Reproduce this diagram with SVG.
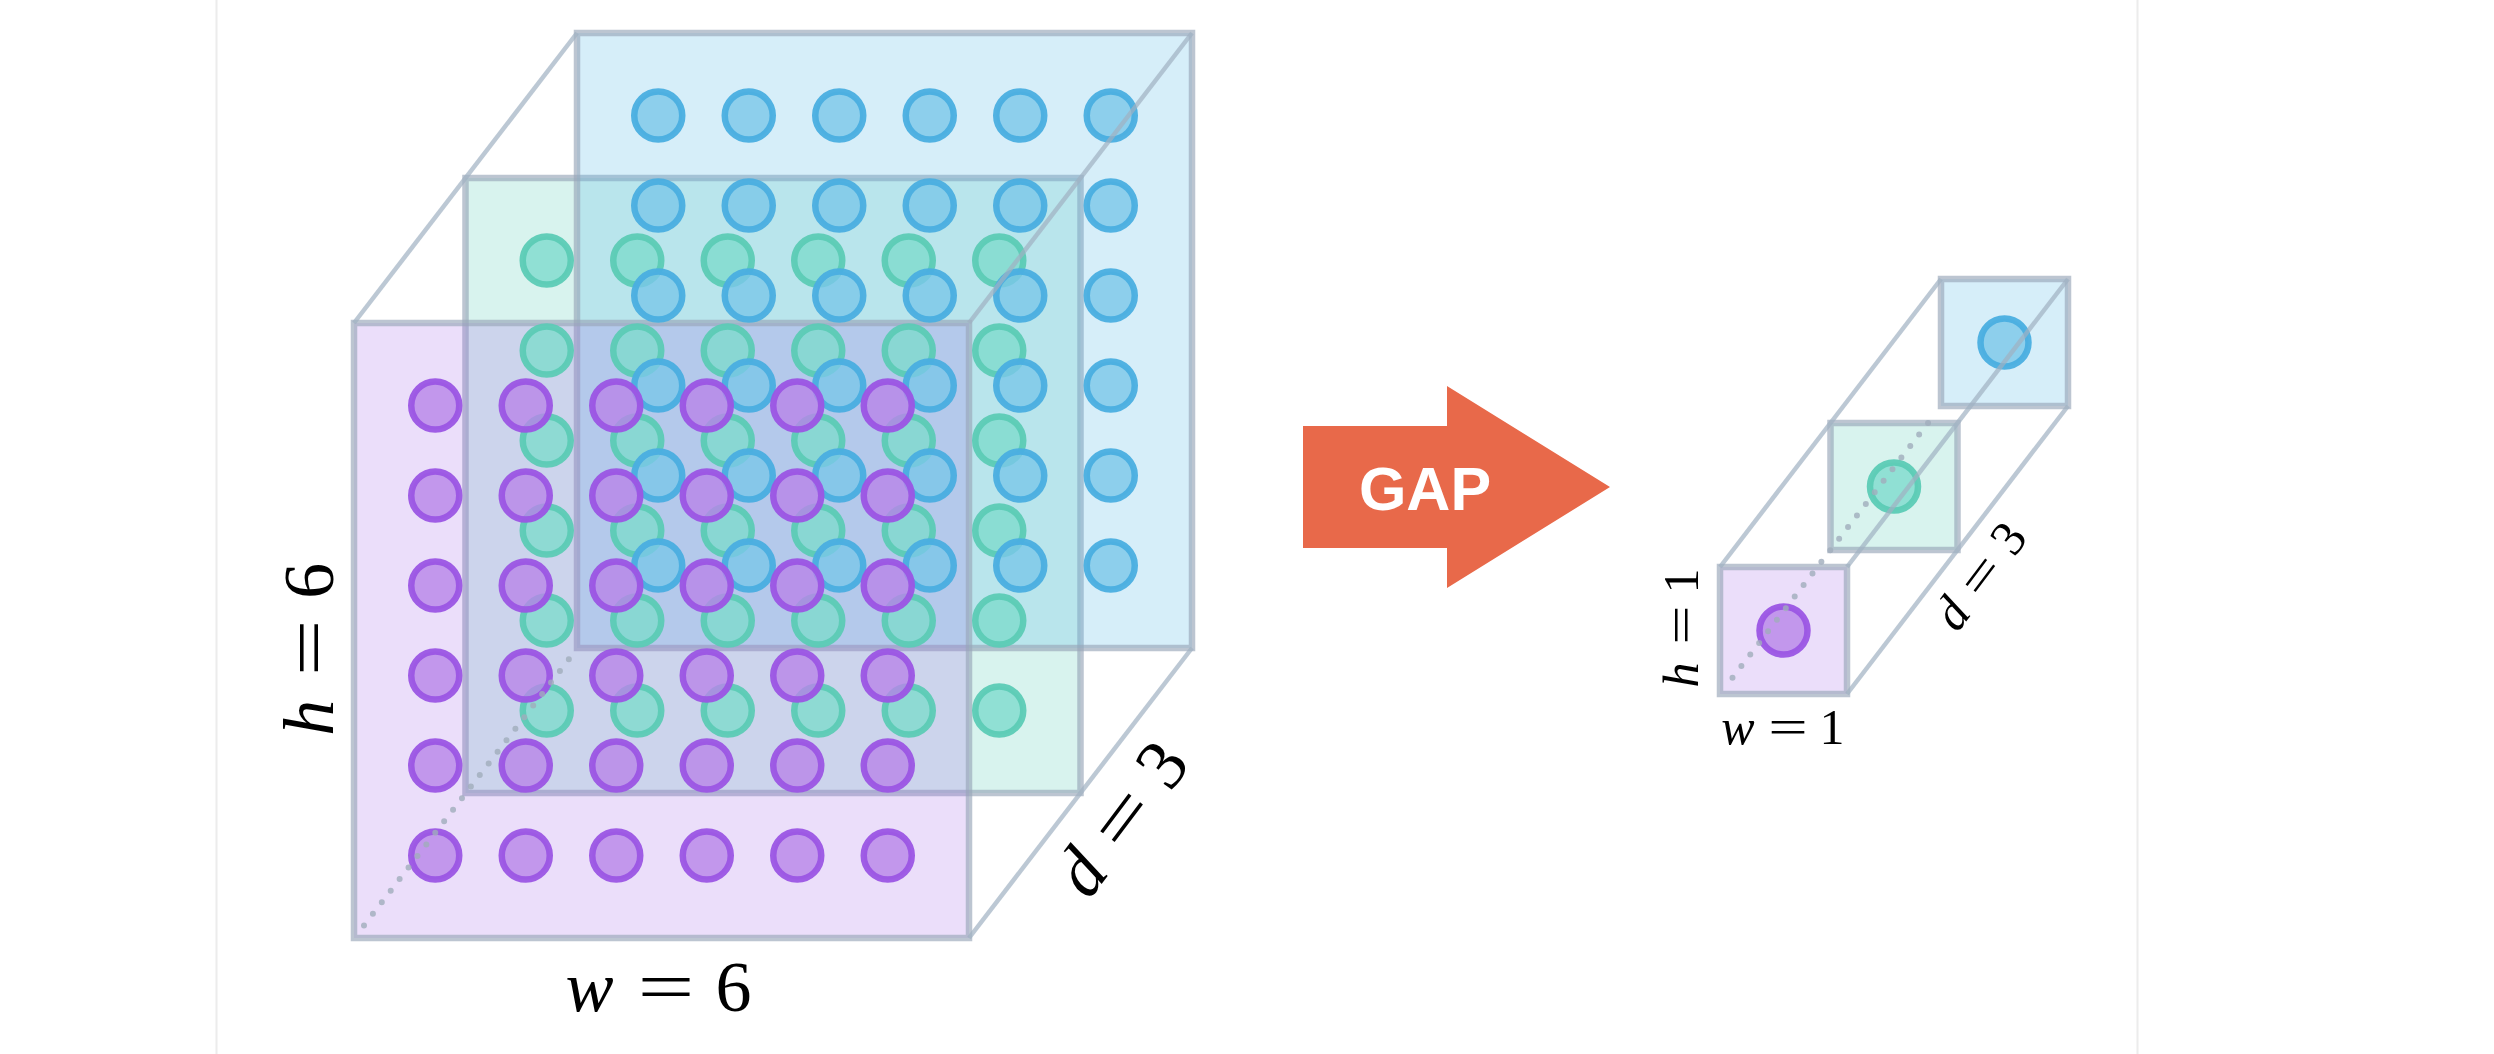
<svg xmlns="http://www.w3.org/2000/svg" xmlns:xlink="http://www.w3.org/1999/xlink" width="2494" height="1054" viewBox="0 0 2494 1054">
  <style>
    .sq { stroke: #98a6b8; stroke-opacity: 0.65; stroke-width: 6.5; }
    .sq-purple { fill: #a26be6; fill-opacity: 0.22; }
    .sq-green { fill: #5ecdb6; fill-opacity: 0.24; }
    .sq-blue { fill: #5bbce6; fill-opacity: 0.25; }
    .c { stroke-width: 6.5; fill-opacity: 0.8; stroke-opacity: 0.95; }
    .c-purple { fill: #b884e8; stroke: #9b55e4; }
    .c-green { fill: #7edbcd; stroke: #5ccbb5; }
    .c-blue { fill: #7bc7e9; stroke: #4aaee0; }
    .edge { stroke: #9fb0c2; stroke-opacity: 0.7; stroke-width: 4.5; fill: none; }
    .dots { stroke: #a0acbc; stroke-opacity: 0.8; stroke-width: 6; stroke-linecap: round; stroke-dasharray: 0 14.6; fill: none; }
    .math { font-family: "Liberation Serif", "Times New Roman", serif; fill: #000; text-anchor: middle; }
    .big { font-size: 72px; }
    .small { font-size: 50px; }
    .it { font-style: italic; }
    .frame { stroke: #ececec; stroke-width: 2; }
  </style>
  <defs>
    <g id="grid">
      <circle cx="81.25" cy="82.5" r="24"/><circle cx="171.75" cy="82.5" r="24"/><circle cx="262.25" cy="82.5" r="24"/><circle cx="352.75" cy="82.5" r="24"/><circle cx="443.25" cy="82.5" r="24"/><circle cx="533.75" cy="82.5" r="24"/>
      <circle cx="81.25" cy="172.5" r="24"/><circle cx="171.75" cy="172.5" r="24"/><circle cx="262.25" cy="172.5" r="24"/><circle cx="352.75" cy="172.5" r="24"/><circle cx="443.25" cy="172.5" r="24"/><circle cx="533.75" cy="172.5" r="24"/>
      <circle cx="81.25" cy="262.5" r="24"/><circle cx="171.75" cy="262.5" r="24"/><circle cx="262.25" cy="262.5" r="24"/><circle cx="352.75" cy="262.5" r="24"/><circle cx="443.25" cy="262.5" r="24"/><circle cx="533.75" cy="262.5" r="24"/>
      <circle cx="81.25" cy="352.5" r="24"/><circle cx="171.75" cy="352.5" r="24"/><circle cx="262.25" cy="352.5" r="24"/><circle cx="352.75" cy="352.5" r="24"/><circle cx="443.25" cy="352.5" r="24"/><circle cx="533.75" cy="352.5" r="24"/>
      <circle cx="81.25" cy="442.5" r="24"/><circle cx="171.75" cy="442.5" r="24"/><circle cx="262.25" cy="442.5" r="24"/><circle cx="352.75" cy="442.5" r="24"/><circle cx="443.25" cy="442.5" r="24"/><circle cx="533.75" cy="442.5" r="24"/>
      <circle cx="81.25" cy="532.5" r="24"/><circle cx="171.75" cy="532.5" r="24"/><circle cx="262.25" cy="532.5" r="24"/><circle cx="352.75" cy="532.5" r="24"/><circle cx="443.25" cy="532.5" r="24"/><circle cx="533.75" cy="532.5" r="24"/>
    </g>
  </defs>

  <rect width="2494" height="1054" fill="#ffffff"/>
  <line class="frame" x1="216.5" y1="0" x2="216.5" y2="1054"/>
  <line class="frame" x1="2137.5" y1="0" x2="2137.5" y2="1054"/>

  <g id="input-tensor">
    <g id="input-planes">
      <rect id="input-plane-green" class="sq sq-green" x="465.5" y="178" width="615" height="615"/>
      <rect id="input-plane-blue" class="sq sq-blue" x="577" y="33" width="615" height="615"/>
      <rect id="input-plane-purple" class="sq sq-purple" x="354" y="323" width="615" height="615"/>
    </g>
    <g id="input-units">
      <use id="input-units-green" xlink:href="#grid" href="#grid" x="465.5" y="178" class="c c-green"/>
      <use id="input-units-blue" xlink:href="#grid" href="#grid" x="577" y="33" class="c c-blue"/>
      <use id="input-units-purple" xlink:href="#grid" href="#grid" x="354" y="323" class="c c-purple"/>
    </g>
    <g id="input-box-edges">
      <line class="edge" x1="354" y1="323" x2="577" y2="33"/>
      <line class="edge" x1="969" y1="323" x2="1192" y2="33"/>
      <line class="edge" x1="969" y1="938" x2="1192" y2="648"/>
      <line class="dots" x1="364" y1="925.4" x2="571" y2="656.5"/>
    </g>
    <g id="input-labels">
      <text class="math big" transform="translate(333,651.7) rotate(-90)"><tspan class="it" x="-66" y="0">h</tspan><tspan x="4" y="0" textLength="57" lengthAdjust="spacingAndGlyphs">=</tspan><tspan x="71" y="0">6</tspan></text>
      <text class="math big"><tspan class="it" x="589.5" y="1011">w</tspan><tspan x="666" y="1011" textLength="57" lengthAdjust="spacingAndGlyphs">=</tspan><tspan x="733.5" y="1011">6</tspan></text>
      <text class="math big" transform="translate(1140,833) rotate(-53)"><tspan class="it" x="-67" y="0">d</tspan><tspan x="1" y="0" textLength="57" lengthAdjust="spacingAndGlyphs">=</tspan><tspan x="68" y="0">3</tspan></text>
    </g>
  </g>

  <g id="gap-arrow">
    <path d="M1303,426 H1447 V386 L1610,487 L1447,588 V548 H1303 Z" fill="#e8694a"/>
    <text x="1425" y="510" font-family="'Liberation Sans', Arial, sans-serif" font-weight="bold" font-size="61" fill="#ffffff" text-anchor="middle">GAP</text>
  </g>

  <g id="output-tensor">
    <g id="output-layer-green">
      <rect class="sq sq-green" x="1830.5" y="423" width="127" height="127"/>
      <circle class="c c-green" cx="1894" cy="486.5" r="24"/>
    </g>
    <g id="output-layer-blue">
      <rect class="sq sq-blue" x="1941" y="279" width="127" height="127"/>
      <circle class="c c-blue" cx="2004.5" cy="342.5" r="24"/>
    </g>
    <g id="output-layer-purple">
      <rect class="sq sq-purple" x="1720" y="567" width="127" height="127"/>
      <circle class="c c-purple" cx="1783.5" cy="630.5" r="24"/>
    </g>
    <g id="output-box-edges">
      <line class="edge" x1="1720" y1="567" x2="1941" y2="279"/>
      <line class="edge" x1="1847" y1="567" x2="2068" y2="279"/>
      <line class="edge" x1="1847" y1="694" x2="2068" y2="406"/>
      <line class="dots" x1="1732.5" y1="677.7" x2="1935" y2="413.8"/>
    </g>
    <g id="output-labels">
      <text class="math small" transform="translate(1698,630) rotate(-90)"><tspan class="it" x="-45" y="0">h</tspan><tspan x="5" y="0" textLength="39.5" lengthAdjust="spacingAndGlyphs">=</tspan><tspan x="49" y="0">1</tspan></text>
      <text class="math small"><tspan class="it" x="1738" y="744">w</tspan><tspan x="1788" y="744" textLength="39.5" lengthAdjust="spacingAndGlyphs">=</tspan><tspan x="1832" y="744">1</tspan></text>
      <text class="math small" transform="translate(1993,586) rotate(-53)"><tspan class="it" x="-47" y="0">d</tspan><tspan x="1" y="0" textLength="39.5" lengthAdjust="spacingAndGlyphs">=</tspan><tspan x="47.5" y="0">3</tspan></text>
    </g>
  </g>
</svg>
